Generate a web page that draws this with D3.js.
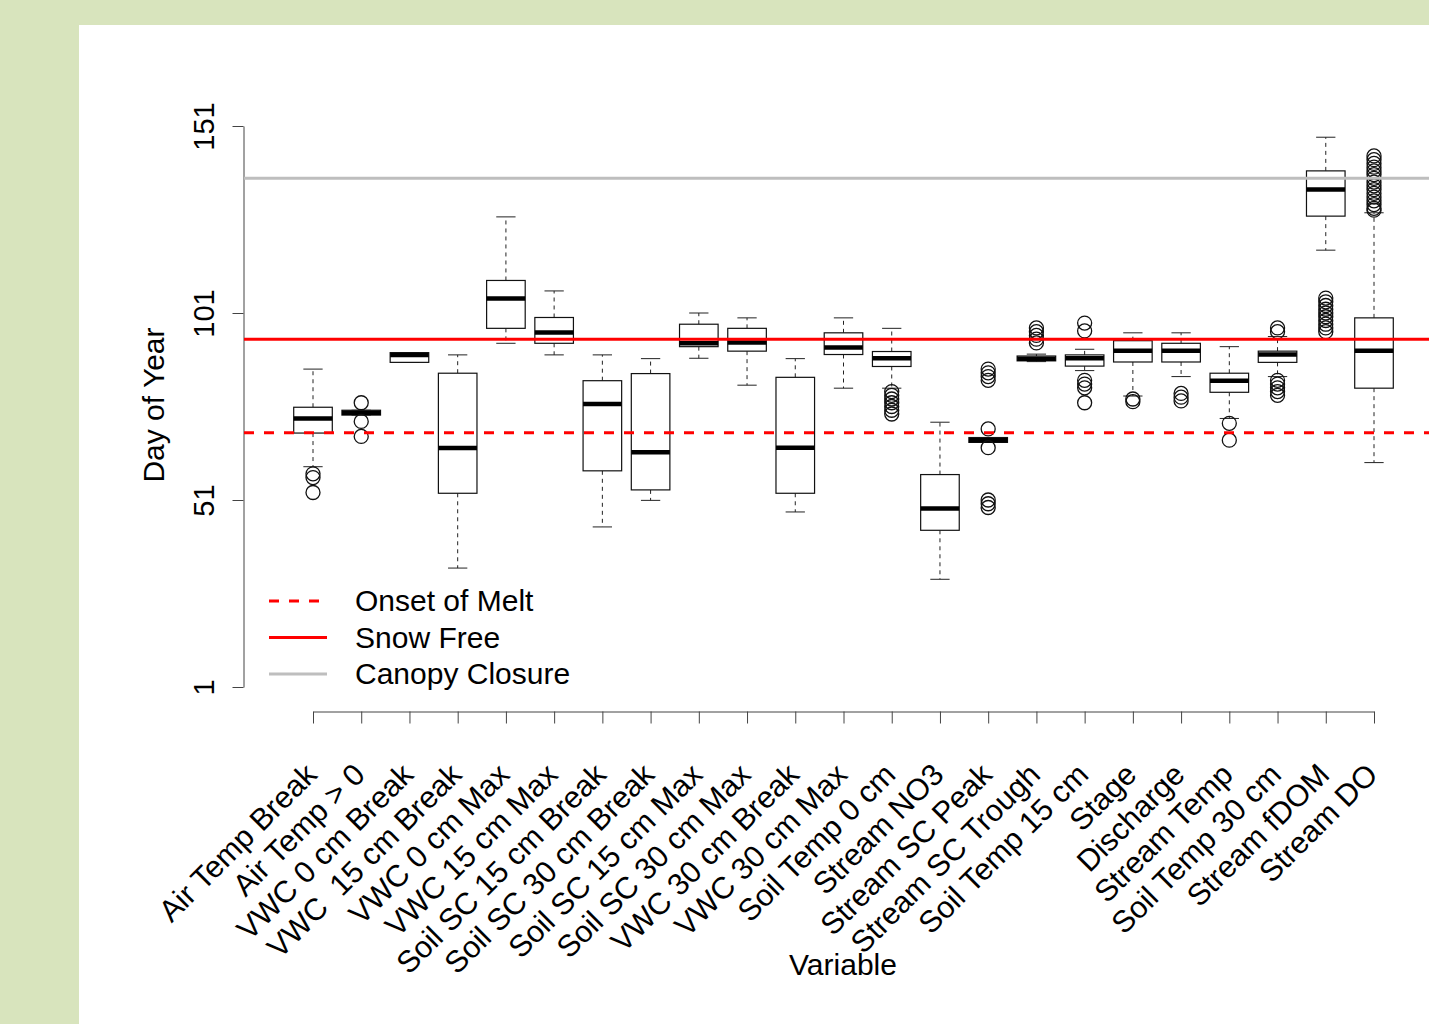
<!DOCTYPE html>
<html>
<head>
<meta charset="utf-8">
<script src="https://cdn.jsdelivr.net/npm/d3@7"></script>
<style>
  body { margin: 0; background: #d8e4bd; }
  svg { display: block; }
  text { font-family: "Liberation Sans", Arial, sans-serif; fill: #000; }
</style>
</head>
<body>
<svg id="chart"></svg>
<script>
const categories = [
    "Air Temp Break", "Air Temp > 0", "VWC 0 cm Break", "VWC  15 cm Break",
    "VWC 0 cm Max", "VWC 15 cm Max", "Soil SC 15 cm Break", "Soil SC 30 cm Break",
    "Soil SC 15 cm Max", "Soil SC 30 cm Max", "VWC 30 cm Break", "VWC 30 cm Max",
    "Soil Temp 0 cm", "Stream NO3", "Stream SC Peak", "Stream SC Trough",
    "Soil Temp 15 cm", "Stage", "Discharge", "Stream Temp", "Soil Temp 30 cm",
    "Stream fDOM", "Stream DO"
];
const whiskerHi = [86, 75, 90.4, 89.8, 126.7, 106.9, 89.8, 88.8, 101, 99.7, 88.8, 99.7, 96.9, 71.8, 67.7, 90, 91.3, 95.7, 95.7, 92, 94.7, 148, 127.8];
const q3 =        [75.8, 75, 90.4, 84.9, 109.7, 99.8, 82.9, 84.8, 98, 96.9, 83.8, 95.7, 90.7, 57.8, 67.7, 89.5, 89.8, 93.6, 92.9, 84.9, 90.8, 139, 99.7];
const medians =   [72.8, 74.3, 89.8, 64.9, 104.9, 95.8, 76.7, 63.8, 92.9, 93.1, 65, 91.8, 88.9, 48.7, 67, 88.8, 88.9, 90.9, 90.9, 82.9, 89.9, 134, 90.9];
const q1 =        [68.9, 73.7, 87.8, 52.8, 96.9, 92.9, 58.8, 53.7, 92, 90.8, 52.8, 89.9, 86.7, 42.9, 66.4, 88.2, 86.8, 87.9, 87.9, 79.8, 87.8, 126.9, 80.9];
const whiskerLo = [59.9, 73.7, 87.8, 32.8, 92.9, 89.8, 43.8, 50.9, 88.9, 81.7, 47.8, 80.9, 80.9, 29.8, 66.4, 88, 85.6, 78.8, 84, 72.8, 84, 117.8, 61];
const outliers = [
    [58, 57, 53],
    [77, 72, 68],
    [], [], [], [], [], [], [], [], [], [],
    [80, 79, 78, 77, 76, 75, 74],
    [],
    [86, 85, 84, 83, 70, 65, 51, 50, 49],
    [97, 96, 95, 94, 93],
    [98.3, 96.2, 83, 82, 81, 77],
    [78, 77.3],
    [79.5, 78.5, 77.5],
    [71.5, 67],
    [97, 96, 83, 82, 81, 80, 79],
    [105, 104, 103, 102, 101, 100, 99, 98, 97, 96],
    [143, 142, 141, 140, 139, 138, 137, 136, 135, 134, 133, 132, 131, 130, 129, 128.5]
];
const yTicks = [1, 51, 101, 151];
const refNames = ["Onset of Melt", "Snow Free", "Canopy Closure"];
const refValues = [69, 94, 137];
const refColors = ["#ff0000", "#ff0000", "#bebebe"];
const refDash = ["10,10", null, null];

const width = 1429;
const height = 1024;
const fontSize = 29;

const svg = d3.select("#chart")
    .attr("width", width)
    .attr("height", height);

svg.append("rect")
    .attr("x", 0).attr("y", 0)
    .attr("width", width).attr("height", height)
    .attr("fill", "#d8e4bd");

svg.append("rect")
    .attr("x", 79).attr("y", 25)
    .attr("width", width - 79).attr("height", height - 25)
    .attr("fill", "#ffffff");

const xScale = d3.scalePoint()
    .domain(categories)
    .range([313, 1374]);

const yScale = d3.scaleLinear()
    .domain([1, 151])
    .range([687, 126]);

const step = xScale.step();
const boxW = step * 0.8;
const capW = boxW / 2;

// y axis
const yAxis = d3.axisLeft(yScale)
    .tickValues(yTicks)
    .tickSize(11)
    .tickSizeOuter(0)
    .tickFormat(d3.format("d"));

const yG = svg.append("g")
    .attr("transform", "translate(243.5,0)")
    .call(yAxis);
yG.select(".domain").attr("stroke", "#444");
yG.selectAll(".tick line").attr("stroke", "#444");
yG.selectAll(".tick text")
    .attr("x", null).attr("dy", null)
    .attr("transform", "translate(-30,0) rotate(-90)")
    .attr("text-anchor", "middle")
    .style("font-size", fontSize + "px")
    .style("font-family", "'Liberation Sans', Arial, sans-serif")
    .attr("fill", "#000");

// x axis
const xAxis = d3.axisBottom(xScale)
    .tickSize(12)
    .tickSizeOuter(0);

const xG = svg.append("g")
    .attr("transform", "translate(0,711.5)")
    .call(xAxis);
xG.select(".domain").attr("stroke", "#444");
xG.selectAll(".tick line").attr("stroke", "#444");
xG.selectAll(".tick text")
    .attr("y", null).attr("dy", null)
    .attr("xml:space", "preserve")
    .attr("transform", "translate(5,65) rotate(-45)")
    .attr("text-anchor", "end")
    .style("white-space", "pre")
    .style("font-size", "30.5px")
    .style("font-family", "'Liberation Sans', Arial, sans-serif")
    .attr("fill", "#000");

svg.append("text")
    .attr("transform", "translate(164,405) rotate(-90)")
    .attr("text-anchor", "middle")
    .style("font-size", "30px")
    .text("Day of Year");

svg.append("text")
    .attr("x", 843)
    .attr("y", 975)
    .attr("text-anchor", "middle")
    .style("font-size", "30px")
    .text("Variable");

// boxes
const stats = categories.map((c, i) => ({
    name: c,
    lo: whiskerLo[i], q1: q1[i], med: medians[i], q3: q3[i], hi: whiskerHi[i],
    out: outliers[i]
}));

const boxes = svg.append("g").selectAll("g")
    .data(stats)
    .enter()
    .append("g")
    .attr("transform", d => `translate(${xScale(d.name)},0)`);

boxes.append("line")
    .attr("x1", 0).attr("x2", 0)
    .attr("y1", d => yScale(d.q3)).attr("y2", d => yScale(d.hi))
    .attr("stroke", "#222").attr("stroke-dasharray", "4,4");
boxes.append("line")
    .attr("x1", 0).attr("x2", 0)
    .attr("y1", d => yScale(d.q1)).attr("y2", d => yScale(d.lo))
    .attr("stroke", "#222").attr("stroke-dasharray", "4,4");

boxes.append("line")
    .attr("x1", -capW / 2).attr("x2", capW / 2)
    .attr("y1", d => yScale(d.hi)).attr("y2", d => yScale(d.hi))
    .attr("stroke", "#222");
boxes.append("line")
    .attr("x1", -capW / 2).attr("x2", capW / 2)
    .attr("y1", d => yScale(d.lo)).attr("y2", d => yScale(d.lo))
    .attr("stroke", "#222");

boxes.append("rect")
    .attr("x", -boxW / 2)
    .attr("width", boxW)
    .attr("y", d => yScale(d.q3))
    .attr("height", d => Math.max(1, yScale(d.q1) - yScale(d.q3)))
    .attr("fill", "#fff")
    .attr("stroke", "#111")
    .attr("stroke-width", 1.2);

boxes.append("line")
    .attr("x1", -boxW / 2).attr("x2", boxW / 2)
    .attr("y1", d => yScale(d.med)).attr("y2", d => yScale(d.med))
    .attr("stroke", "#000")
    .attr("stroke-width", 4.5);

boxes.selectAll("circle")
    .data(d => d.out)
    .enter()
    .append("circle")
    .attr("cx", 0)
    .attr("cy", d => yScale(d))
    .attr("r", 7)
    .attr("fill", "none")
    .attr("stroke", "#111")
    .attr("stroke-width", 1.3);

// reference lines
svg.append("g").selectAll("line")
    .data(refValues)
    .enter()
    .append("line")
    .attr("x1", 244).attr("x2", width)
    .attr("y1", d => yScale(d)).attr("y2", d => yScale(d))
    .attr("stroke", (d, i) => refColors[i])
    .attr("stroke-width", 3)
    .attr("stroke-dasharray", (d, i) => refDash[i]);

// legend
const legend = svg.append("g").selectAll("g")
    .data(refNames)
    .enter()
    .append("g")
    .attr("transform", (d, i) => `translate(269,${601 + i * 36.5})`);

legend.append("line")
    .attr("x1", 0).attr("x2", 58)
    .attr("y1", 0).attr("y2", 0)
    .attr("stroke", (d, i) => refColors[i])
    .attr("stroke-width", 3)
    .attr("stroke-dasharray", (d, i) => refDash[i]);

legend.append("text")
    .attr("x", 86)
    .attr("y", 10)
    .style("font-size", "30px")
    .text(d => d);
</script>
</body>
</html>
